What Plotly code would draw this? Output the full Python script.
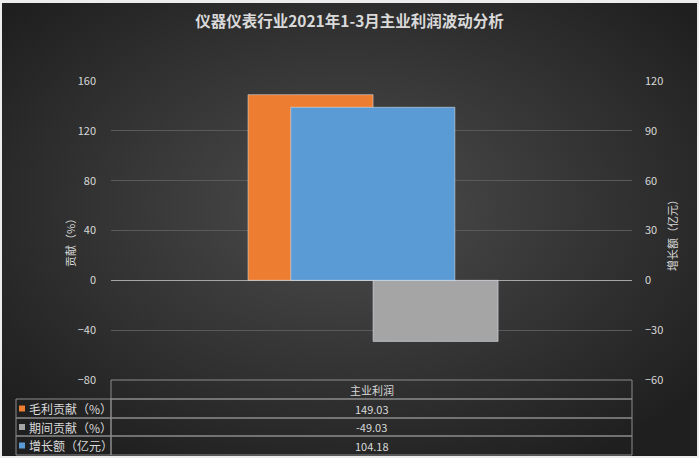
import base64
import plotly.graph_objects as go

# 数据
category = ["主业利润"]
series_names = ["毛利贡献（%）", "期间贡献（%）", "增长额（亿元）"]
gross_contrib = [149.03]   # 毛利贡献（%）
period_contrib = [-49.03]  # 期间贡献（%）
growth_amount = [104.18]   # 增长额（亿元）

colors = ["#ED7D31", "#A5A5A5", "#5B9BD5"]
font_cn = "Noto Sans CJK SC"
txt_color = "#D9D9D9"

W, H = 699, 458
L, R, T, B = 111, 67, 81, 78
pw, ph = W - L - R, H - T - B


def px(x):
    return (x - L) / pw


def py(y):
    return (H - B - y) / ph


# 背景径向渐变（SVG）
svg = """<svg xmlns='http://www.w3.org/2000/svg' width='695' height='453'>
<defs><radialGradient id='g' cx='50%' cy='45%' r='65%'>
<stop offset='0%' stop-color='#4d4d4d'/><stop offset='100%' stop-color='#1f1f1f'/>
</radialGradient></defs><rect width='695' height='453' fill='url(#g)'/></svg>"""
bg_src = "data:image/svg+xml;base64," + base64.b64encode(svg.encode()).decode()

fig = go.Figure()

fig.add_trace(go.Bar(
    x=category, y=gross_contrib, name=series_names[0],
    marker=dict(color=colors[0]), width=0.24, offset=-0.237,
    yaxis="y", showlegend=False
))
fig.add_trace(go.Bar(
    x=category, y=period_contrib, name=series_names[1],
    marker=dict(color=colors[1]), width=0.24, offset=0.003,
    yaxis="y", showlegend=False
))
fig.add_trace(go.Bar(
    x=category, y=growth_amount, name=series_names[2],
    marker=dict(color=colors[2]), width=0.315, offset=-0.155,
    yaxis="y2", showlegend=False
))

shapes = []
annotations = []
line_c = "#8C8C8C"


def note(x, y, text, size=11, xanchor="center", angle=0):
    annotations.append(dict(xref="paper", yref="paper", x=px(x), y=py(y), text=text,
                            xanchor=xanchor, yanchor="middle", textangle=angle,
                            showarrow=False,
                            font=dict(size=size, color=txt_color, family=font_cn)))


# 数据表：表头
x_left, x_mid, x_right = 16, 111, 632
row_y = [380, 399, 418, 436, 455]
shapes.append(dict(type="rect", xref="paper", yref="paper",
                   x0=px(x_mid), x1=px(x_right), y0=py(row_y[1]), y1=py(row_y[0]),
                   line=dict(color=line_c, width=1)))
note((x_mid + x_right) / 2, (row_y[0] + row_y[1]) / 2, category[0])

values = [gross_contrib[0], period_contrib[0], growth_amount[0]]
for i, (name, val, c) in enumerate(zip(series_names, values, colors)):
    y0, y1 = row_y[i + 1], row_y[i + 2]
    shapes.append(dict(type="rect", xref="paper", yref="paper",
                       x0=px(x_left), x1=px(x_mid), y0=py(y1), y1=py(y0),
                       line=dict(color=line_c, width=1)))
    shapes.append(dict(type="rect", xref="paper", yref="paper",
                       x0=px(x_mid), x1=px(x_right), y0=py(y1), y1=py(y0),
                       line=dict(color=line_c, width=1)))
    ym = (y0 + y1) / 2
    shapes.append(dict(type="rect", xref="paper", yref="paper",
                       x0=px(19), x1=px(25), y0=py(ym + 3), y1=py(ym - 3),
                       fillcolor=c, line=dict(width=0)))
    note(27, ym, name, size=12, xanchor="left")
    note((x_mid + x_right) / 2, ym, f"{val:.2f}")

# 坐标轴标题
note(70, 240, "贡献（%）", angle=-90)
note(672, 233, "增长额（亿元）", angle=-90)

fig.update_layout(
    width=W, height=H,
    margin=dict(l=L, r=R, t=T, b=B),
    paper_bgcolor="#EDEDED",
    plot_bgcolor="rgba(0,0,0,0)",
    title=dict(text="<b>仪器仪表行业2021年1-3月主业利润波动分析</b>", x=0.5, xanchor="center",
               xref="container", y=1 - 22 / H, yanchor="middle",
               font=dict(size=15.5, color=txt_color, family=font_cn)),
    xaxis=dict(type="category", range=[-0.5, 0.5], showticklabels=False,
               showgrid=False, zeroline=False, showline=False),
    yaxis=dict(range=[-80, 160], dtick=40, tick0=0, showgrid=True, gridcolor="#5A5A5A",
               gridwidth=1, zeroline=True, zerolinecolor="#A6A6A6", zerolinewidth=1,
               ticks="", ticklabelstandoff=14,
               tickfont=dict(size=11, color=txt_color, family=font_cn)),
    yaxis2=dict(range=[-60, 120], dtick=30, tick0=0, overlaying="y", side="right",
                showgrid=False, zeroline=False, ticks="", ticklabelstandoff=12,
                tickfont=dict(size=11, color=txt_color, family=font_cn)),
    images=[dict(source=bg_src, xref="paper", yref="paper", x=px(2), y=py(3),
                 sizex=695 / pw, sizey=453 / ph, xanchor="left", yanchor="top",
                 sizing="stretch", layer="below")],
    shapes=shapes,
    annotations=annotations,
    showlegend=False,
)

# 去掉页面默认边距，让图表贴齐窗口
fig.write_html("out.html", config={"displayModeBar": False},
               post_script="document.body.style.margin='0';")
